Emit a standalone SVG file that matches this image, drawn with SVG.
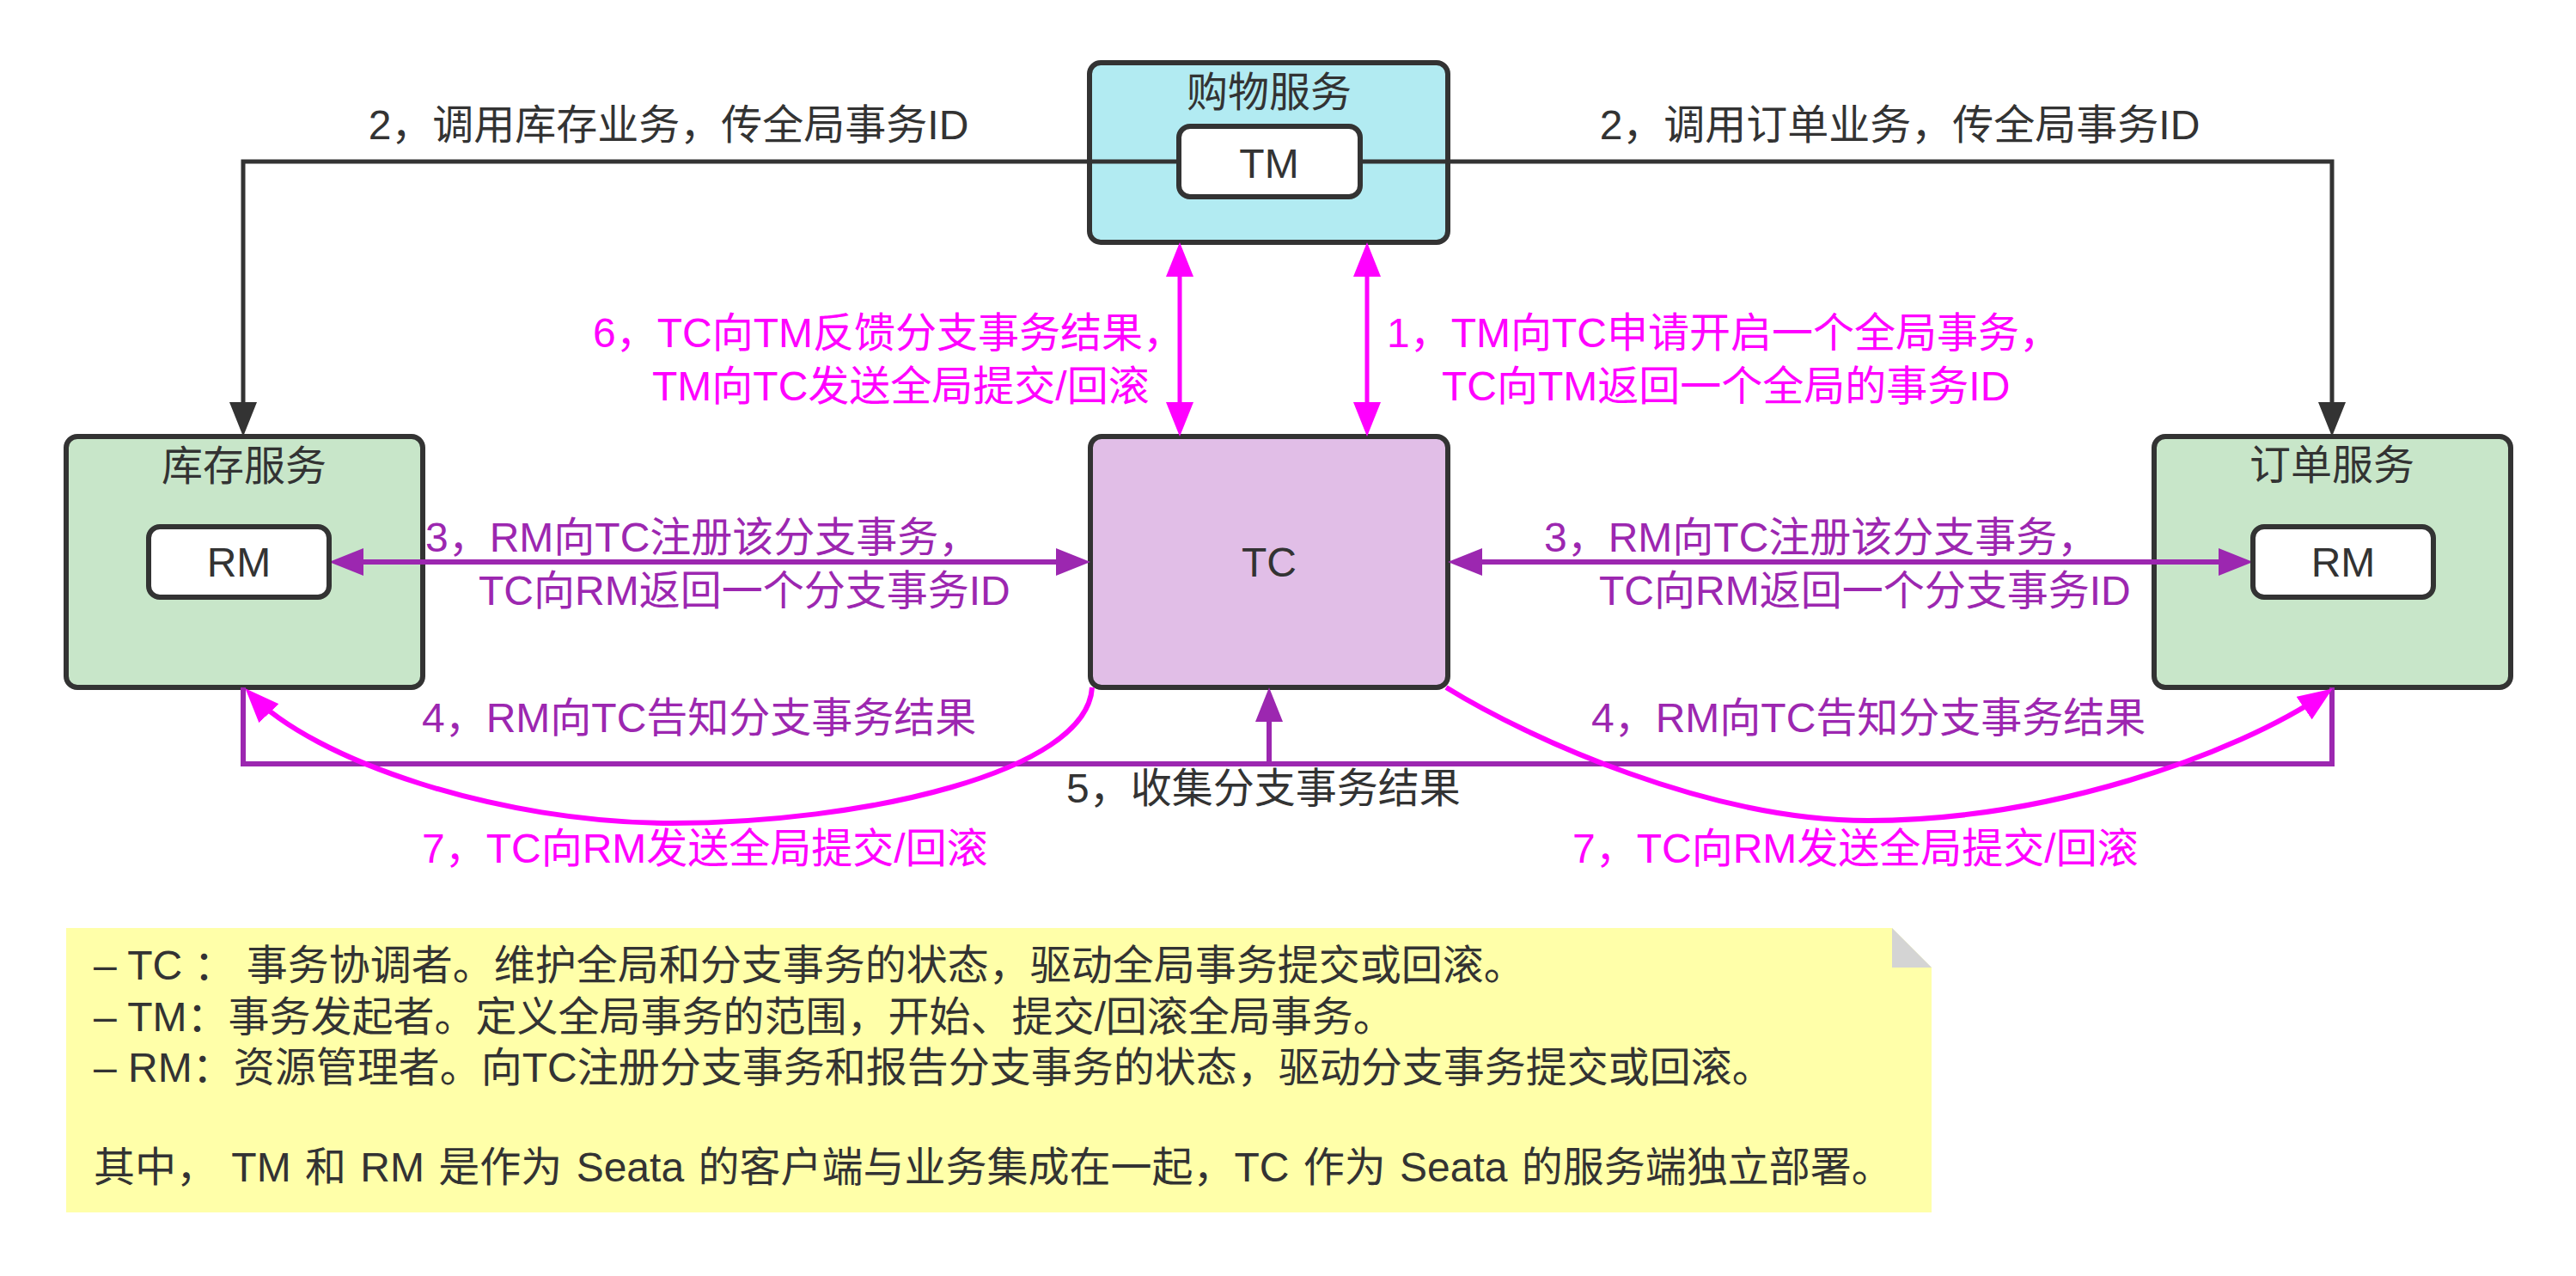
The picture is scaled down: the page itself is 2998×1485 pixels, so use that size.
<svg xmlns="http://www.w3.org/2000/svg" width="2998" height="1485" viewBox="0 0 2998 1485">
<style>
text{font-family:"Liberation Sans","Noto Sans CJK SC",sans-serif;font-size:48px;}
.dk{fill:#333333;}
.mg{fill:#FF00FF;}
.pu{fill:#9C27B0;}
.mid{text-anchor:middle;}
.box{stroke:#333333;stroke-width:6;}
.inner{fill:#FFFFFF;stroke:#333333;stroke-width:6;}
.note{font-size:48px;fill:#333333;}
.cd{fill:none;stroke:#333333;stroke-width:5;}
.cm{fill:none;stroke:#FF00FF;stroke-width:5;}
.cmc{fill:none;stroke:#FF00FF;stroke-width:6;}
.cp{fill:none;stroke:#9C27B0;stroke-width:6;}
</style>
<defs>
<marker id="aDark" viewBox="0 0 40 32" refX="32" refY="16" markerWidth="40" markerHeight="32" markerUnits="userSpaceOnUse" orient="auto-start-reverse"><path d="M0,0 L40,16 L0,32 z" fill="#333333"/></marker>
<marker id="aMag" viewBox="0 0 40 32" refX="32" refY="16" markerWidth="40" markerHeight="32" markerUnits="userSpaceOnUse" orient="auto-start-reverse"><path d="M0,0 L40,16 L0,32 z" fill="#FF00FF"/></marker>
<marker id="aPur" viewBox="0 0 40 32" refX="32" refY="16" markerWidth="40" markerHeight="32" markerUnits="userSpaceOnUse" orient="auto-start-reverse"><path d="M0,0 L40,16 L0,32 z" fill="#9C27B0"/></marker>
</defs>
<rect x="0" y="0" width="2998" height="1485" fill="#FFFFFF"/>

<g id="nodes">
<g id="shopping-service">
<rect class="box" x="1268" y="73" width="417" height="209" rx="13" fill="#B2EBF2"/>
<text class="dk mid" x="1477" y="124">购物服务</text>
</g>
<g id="inventory-service">
<rect class="box" x="77" y="508" width="415" height="292" rx="13" fill="#C8E6C9"/>
<text class="dk mid" x="284" y="559">库存服务</text>
</g>
<g id="tc">
<rect class="box" x="1269" y="508" width="416" height="292" rx="13" fill="#E1BEE7"/>
<text class="dk mid" x="1477" y="671">TC</text>
</g>
<g id="order-service">
<rect class="box" x="2507" y="508" width="415" height="292" rx="13" fill="#C8E6C9"/>
<text class="dk mid" x="2714" y="558">订单服务</text>
</g>
</g>

<g id="connectors">
<path class="cd" d="M1372,188 H283 V500" marker-end="url(#aDark)"/>
<path class="cd" d="M1583,188 H2714 V500" marker-end="url(#aDark)"/>
<path class="cm" d="M1373,290 V500" marker-start="url(#aMag)" marker-end="url(#aMag)"/>
<path class="cm" d="M1591,290 V500" marker-start="url(#aMag)" marker-end="url(#aMag)"/>
<path class="cp" d="M391,654 H1261" marker-start="url(#aPur)" marker-end="url(#aPur)"/>
<path class="cp" d="M1693,654 H2614" marker-start="url(#aPur)" marker-end="url(#aPur)"/>
<path class="cp" d="M283,800 V889 H2714 V800"/>
<path class="cp" d="M1477,889 V808" marker-end="url(#aPur)"/>
<path class="cmc" d="M1271,800 C1265,900 1000,958 782,958 C580,958 365,885 291,807" marker-end="url(#aMag)"/>
<path class="cmc" d="M1683,800 C1780,860 1990,955 2174,955 C2380,955 2600,880 2708,806" marker-end="url(#aMag)"/>
<text class="dk mid" x="778" y="162">2，调用库存业务，传全局事务ID</text>
<text class="dk mid" x="2211" y="162">2，调用订单业务，传全局事务ID</text>
<text class="mg" x="690" y="404">6，TC向TM反馈分支事务结果，</text>
<text class="mg" x="759" y="466">TM向TC发送全局提交/回滚</text>
<text class="mg" x="1614" y="404">1，TM向TC申请开启一个全局事务，</text>
<text class="mg" x="1678" y="466">TC向TM返回一个全局的事务ID</text>
<text class="pu" x="495" y="642">3，RM向TC注册该分支事务，</text>
<text class="pu" x="557" y="704">TC向RM返回一个分支事务ID</text>
<text class="pu" x="1797" y="642">3，RM向TC注册该分支事务，</text>
<text class="pu" x="1861" y="704">TC向RM返回一个分支事务ID</text>
<text class="pu" x="491" y="852">4，RM向TC告知分支事务结果</text>
<text class="pu" x="1852" y="852">4，RM向TC告知分支事务结果</text>
<text class="dk" x="1241" y="934">5，收集分支事务结果</text>
<text class="mg" x="491" y="1004">7，TC向RM发送全局提交/回滚</text>
<text class="mg" x="1830" y="1004">7，TC向RM发送全局提交/回滚</text>
</g>

<g id="tm">
<rect class="inner" x="1372" y="147" width="211" height="82" rx="13"/>
<text class="dk mid" x="1477" y="207">TM</text>
</g>
<g id="rm-inventory">
<rect class="inner" x="173" y="613" width="210" height="82" rx="13"/>
<text class="dk mid" x="278" y="671">RM</text>
</g>
<g id="rm-order">
<rect class="inner" x="2622" y="613" width="210" height="82" rx="13"/>
<text class="dk mid" x="2727" y="671">RM</text>
</g>

<g id="note">
<path d="M77,1080 H2202 L2248,1126 V1411 H77 Z" fill="#FFFFA9"/>
<path d="M2202,1080 V1126 H2248 Z" fill="#D4D4D4"/>
<text class="note" x="109" y="1140">– TC ：  事务协调者。维护全局和分支事务的状态，驱动全局事务提交或回滚。</text>
<text class="note" x="109" y="1200">– TM：事务发起者。定义全局事务的范围，开始、提交/回滚全局事务。</text>
<text class="note" x="109" y="1259">– RM：资源管理者。向TC注册分支事务和报告分支事务的状态，驱动分支事务提交或回滚。</text>
<text class="note" x="109" y="1375" word-spacing="3">其中， TM 和 RM 是作为 Seata 的客户端与业务集成在一起，TC 作为 Seata 的服务端独立部署。</text>
</g>
</svg>
